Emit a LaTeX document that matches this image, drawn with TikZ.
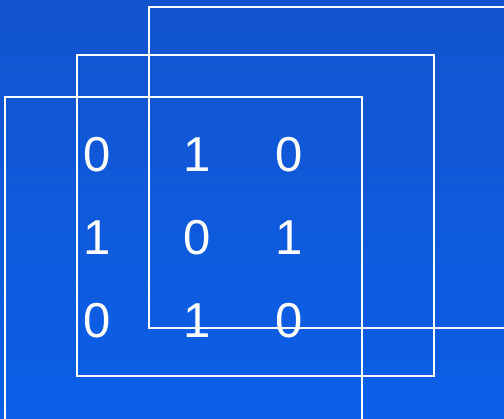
\documentclass[tikz,border=0pt]{standalone}
\usepackage{fontspec}
\setmainfont{Liberation Sans}
\usetikzlibrary{positioning}

\definecolor{bgtop}{RGB}{19,84,206}
\definecolor{bgbot}{RGB}{11,95,232}

\begin{document}
\begin{tikzpicture}[
    x=1pt, y=1pt,
    frame/.style={draw=white, line width=2pt},
    digit/.style={
        text=white, inner sep=0pt, anchor=center,
        font=\fontsize{49}{59}\selectfont
    },
]

% ================================================================
%  BACKGROUND
% ================================================================
\useasboundingbox (0,0) rectangle (504,419);
\clip (0,0) rectangle (504,419);
\shade[top color=bgtop, bottom color=bgbot] (0,0) rectangle (504,419);

% ================================================================
%  STACKED FRAMES (back to front)
% ================================================================
\draw[frame] (149,91) rectangle (506,412);
\draw[frame] (77,43)  rectangle (434,364);
\draw[frame] (5,-1)   rectangle (362,322);

% ================================================================
%  KERNEL VALUES
% ================================================================
\def\colA{97}
\def\colB{197}
\def\colC{289}

% --- row 1 ---
\node[digit] (k11) at (\colA, 264.5) {0};
\node[digit] (k12) at (\colB, 264.5) {1};
\node[digit] (k13) at (\colC, 264.5) {0};

% --- row 2 ---
\node[digit] (k21) at (\colA, 181.5) {1};
\node[digit] (k22) at (\colB, 181.5) {0};
\node[digit] (k23) at (\colC, 181.5) {1};

% --- row 3 ---
\node[digit] (k31) at (\colA, 98.5) {0};
\node[digit] (k32) at (\colB, 98.5) {1};
\node[digit] (k33) at (\colC, 98.5) {0};

\end{tikzpicture}
\end{document}
